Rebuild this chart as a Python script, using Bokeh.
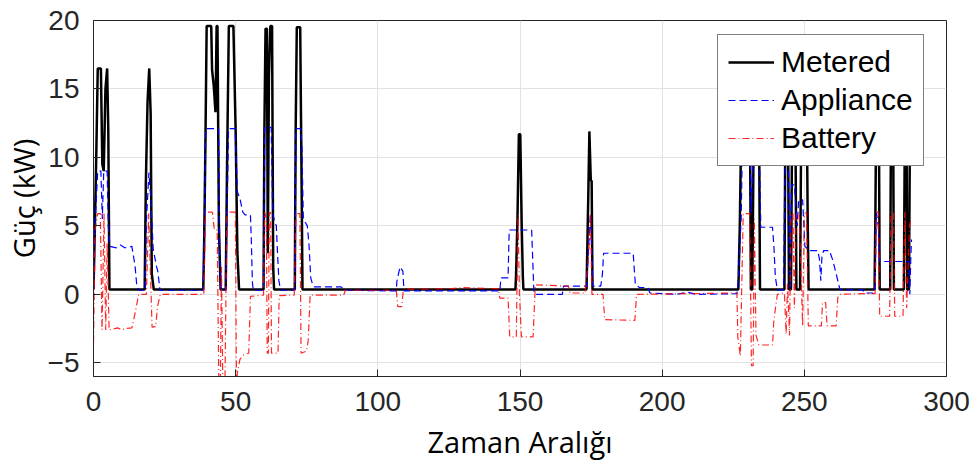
from bokeh.plotting import figure
from bokeh.models import Range1d, FixedTicker, Legend, LegendItem
from bokeh.embed import file_html
from bokeh.resources import INLINE

# ---- data (breakpoints) ----
metered_x = [0, 0.5, 1.0, 1.5, 2.6, 3.1, 3.6, 4.2, 4.8, 5.2, 5.6,
             18.0, 18.4, 19.0, 19.6, 20.1, 20.5, 21.2,
             38.6, 38.9, 39.3, 39.8, 41.4, 41.7, 42.3, 42.9, 43.3, 43.6, 44.1, 44.7,
             46.5, 47.0, 47.6, 49.2, 50.0, 50.6, 51.2,
             59.8, 60.1, 60.5, 61.0, 61.3, 61.7, 62.2, 62.8, 63.2, 63.5,
             70.8, 71.1, 71.5, 72.7, 73.0, 73.3, 73.5,
             148.4, 148.6, 149.1, 149.6, 150.1, 150.6, 151.0, 151.2,
             173.4, 173.6, 174.0, 174.4, 174.9, 175.2, 175.5,
             226.8, 227.3, 227.8, 228.3, 230.8, 231.2, 231.7, 232.2, 233.0, 233.5, 234.0, 234.4,
             243.0, 243.4, 244.2, 244.6, 245.3, 245.8, 246.8, 247.2, 248.5, 248.9, 249.3, 250.8, 251.2, 251.5,
             274.7, 275.0, 275.3, 276.2, 276.5,
             280.2, 280.5, 281.2, 281.5,
             285.0, 285.4, 285.9, 286.2, 286.8, 287.2, 287.7]
metered_y = [0.4, 5.0, 10.5, 16.5, 16.5, 9.5, 9.0, 15.0, 16.5, 12.0, 0.35,
             0.35, 8.0, 14.0, 16.5, 13.2, 1.5, 0.35,
             0.35, 3.6, 9.9, 19.6, 19.6, 16.4, 15.2, 13.3, 19.6, 19.6, 5.0, 0.35,
             0.35, 10.0, 19.6, 19.6, 11.9, 3.1, 0.35,
             0.35, 12.0, 19.4, 19.4, 3.0, 16.0, 19.6, 19.6, 2.0, 0.35,
             0.35, 12.0, 19.5, 19.5, 12.5, 5.5, 0.35,
             0.35, 1.3, 5.4, 11.7, 11.7, 5.0, 1.3, 0.35,
             0.35, 2.6, 7.0, 11.9, 8.3, 8.3, 0.35,
             0.35, 5.0, 12.0, 16.0, 16.0, 0.35, 0.35, 12.0, 16.0, 10.0, 16.0, 0.35,
             0.35, 15.0, 15.0, 0.35, 0.35, 15.0, 15.0, 0.35, 0.35, 12.0, 15.0, 15.0, 5.0, 0.35,
             0.35, 6.0, 14.0, 14.0, 0.35,
             0.35, 14.0, 14.0, 0.35,
             0.35, 14.0, 14.0, 0.35, 0.35, 14.0, 14.0]

appliance_x = [0, 0.5, 1.5, 2.6, 3.1, 3.6, 4.8, 5.2, 5.8, 8.0, 9.5, 11.0, 13.5, 14.6, 15.2, 16.0,
               18.2, 18.6, 19.5, 20.2, 21.0, 22.2, 22.6, 23.4,
               38.6, 39.0, 39.5, 44.0, 44.4, 44.7, 46.5, 47.0, 47.5, 49.8, 50.6, 51.5, 52.5, 53.3, 55.2, 55.5, 55.9, 56.2,
               59.8, 60.2, 62.5, 63.0, 63.6, 64.3, 64.7, 65.2, 65.8,
               70.8, 71.2, 72.9, 73.3, 73.8, 75.2, 75.8, 76.4, 77.1, 77.7, 87.1, 88.3,
               106.5, 106.7, 107.8, 108.8, 109.2,
               142.9, 143.3, 145.8, 146.2, 154.1, 154.9, 155.5, 164.9, 165.3,
               173.5, 174.0, 174.8, 175.4, 175.6, 178.4, 179.0, 179.4, 189.8, 190.3, 190.6, 192.0, 195.0, 195.7,
               205.0, 209.0, 212.0, 226.3, 226.8, 227.8, 228.3, 230.9, 231.3, 232.3, 234.0, 234.7, 238.8, 239.3, 239.8, 240.5,
               242.7, 243.1, 243.6, 244.4, 245.0, 245.5, 246.5, 247.5, 248.0, 249.4, 250.2, 251.6, 254.7, 255.3, 255.8, 256.2, 256.8,
               258.8, 260.0, 261.2, 262.4, 262.8, 270.6, 271.0, 274.7, 275.0, 275.3, 276.0, 276.5, 286.8, 287.1, 287.5, 287.7]
appliance_y = [0.3, 5.0, 9.0, 9.0, 5.5, 9.0, 9.0, 5.0, 3.5, 3.4, 3.6, 3.4, 3.5, 2.1, 0.7, 0.3,
               0.3, 5.3, 8.9, 6.8, 3.3, 2.0, 1.7, 0.3,
               0.3, 5.0, 12.1, 12.1, 3.0, 0.3, 0.3, 6.0, 12.1, 12.1, 7.5, 7.0, 6.0, 5.8, 5.8, 4.0, 0.8, 0.3,
               0.3, 12.2, 12.2, 6.0, 5.4, 5.0, 3.1, 1.0, 0.3,
               0.3, 12.1, 12.1, 10.9, 5.5, 5.0, 3.6, 1.2, 0.7, 0.55, 0.55, 0.3,
               0.25, 0.95, 2.0, 1.7, 0.25,
               0.25, 1.2, 1.2, 4.7, 4.7, 0.1, 0.0, 0.0, 0.6,
               0.6, 3.0, 5.9, 2.0, 0.6, 0.6, 1.5, 3.0, 3.0, 1.5, 0.7, 0.5, 0.5, 0.1,
               0.0, 0.15, 0.0, 0.05, 1.0, 5.7, 12.0, 12.0, 6.0, 12.0, 12.0, 4.9, 4.9, 3.5, 1.3, 0.33,
               0.33, 8.0, 10.0, 10.0, 0.33, 8.0, 8.0, 5.0, 6.9, 6.9, 3.5, 3.2, 3.2, 2.6, 1.0, 2.8, 3.2,
               3.2, 2.5, 1.5, 0.45, 0.33, 0.33, 0.1, 0.1, 2.0, 6.0, 5.0, 2.4, 2.4, 0.0, 3.0, 4.0]

battery_x = [0, 0.6, 1.5, 2.4, 3.0, 3.7, 4.3, 4.8, 5.5, 8.5, 10.0, 11.0, 13.5, 14.6, 15.9,
             18.6, 19.4, 20.6, 21.9, 22.5, 23.5,
             38.8, 39.4, 41.8, 42.5, 43.5, 44.1, 44.6, 45.0, 45.5, 46.2, 46.9, 49.9, 50.3, 50.6, 51.5, 52.9, 54.6, 55.2,
             59.8, 60.2, 60.8, 61.1, 61.5, 61.8, 62.3, 62.6, 64.9, 65.3,
             70.6, 71.2, 72.6, 73.0, 74.9, 75.5, 76.2, 88.0, 88.6,
             106.5, 107.0, 108.4, 109.0, 125.0, 130.0, 142.4, 142.9, 145.8, 146.4, 148.7, 149.3, 149.8, 150.5,
             154.6, 155.4, 167.0, 167.6, 172.9, 174.2, 174.8, 175.3, 176.2, 179.2, 179.8, 190.4, 191.0,
             226.3, 226.6, 227.5, 228.5, 230.8, 231.4, 232.0, 232.4, 233.0, 234.0, 238.8, 239.3, 240.5,
             243.0, 243.6, 244.1, 244.8, 245.3, 246.0, 246.5, 247.1, 248.2, 249.4, 250.0, 250.8, 251.4,
             256.0, 256.4, 257.5, 258.0, 261.2, 261.8, 262.4, 270.6, 274.9, 275.3, 276.0, 276.5,
             280.0, 280.5, 281.4, 281.8, 284.7, 285.3, 286.0, 287.0, 287.5]
battery_y = [-3.5, 4.8, 5.9, 5.9, -2.6, 5.9, -2.6, 3.7, -2.6, -2.45, -2.6, -2.5, -2.45, -1.4, 0.0,
             0.0, 5.9, -2.4, -2.35, -0.9, 0.0,
             0.0, 6.0, 6.0, 4.7, 4.7, -7.0, -7.0, 2.0, -7.0, -7.0, 6.0, 6.0, -7.0, -5.7, -4.75, -4.4, -4.3, -0.15,
             -0.05, 6.0, 5.5, -4.3, -4.3, 5.9, 6.0, -4.3, -4.3, -0.1,
             -0.05, 5.9, 5.9, -4.3, -4.15, -3.4, -0.05, -0.05, 0.3,
             0.3, -0.9, -0.9, 0.38, 0.4, 0.5, 0.4, -0.28, -0.28, -3.1, -3.1, 5.8, 0.0, -3.1,
             -3.1, 0.7, 0.6, 0.1, 0.1, 3.0, 5.9, 0.0, 0.0, 0.0, -1.85, -1.9, 0.0,
             0.1, -3.1, -4.5, 5.9, 5.9, -5.2, -5.2, 5.5, -3.0, -3.7, -3.7, -1.85, 0.0,
             0.1, -2.9, 0.8, -3.0, 5.9, 5.9, -1.0, 6.0, 6.0, -2.3, 5.8, 6.0, -2.3,
             -2.3, -0.6, -0.6, -2.3, -2.3, -0.15, 0.0, 0.05, 0.05, 6.0, 6.0, -1.6,
             -1.6, 6.0, 6.0, -1.6, -1.6, 6.0, -1.0, 5.0, 5.6]

x_ticks = [0, 50, 100, 150, 200, 250, 300]
y_ticks = [-5, 0, 5, 10, 15, 20]

TXT = "#262626"
p = figure(width=973, height=467, output_backend="svg", toolbar_location=None,
           x_range=Range1d(0, 300), y_range=Range1d(-6, 20),
           min_border_left=93, min_border_right=27, min_border_top=20, min_border_bottom=91)
p.background_fill_color = "white"
p.border_fill_color = "white"
p.outline_line_color = TXT
p.outline_line_width = 1

p.xaxis.ticker = FixedTicker(ticks=x_ticks)
p.yaxis.ticker = FixedTicker(ticks=y_ticks)
for ax in (p.xaxis[0], p.yaxis[0]):
    ax.major_tick_in = 7
    ax.major_tick_out = 0
    ax.minor_tick_line_color = None
    ax.axis_line_color = TXT
    ax.major_tick_line_color = TXT
    ax.major_label_text_color = TXT
    ax.major_label_text_font = "Liberation Sans"
    ax.major_label_text_font_size = "28px"
    ax.axis_label_text_font = "Open Sans"
    ax.axis_label_text_font_style = "normal"
    ax.axis_label_text_font_size = "29px"
    ax.axis_label_text_color = "black"
p.xaxis.major_label_standoff = 15
p.yaxis.major_label_standoff = 14
p.xaxis.axis_label = "Zaman Aralığı"
p.yaxis.axis_label = "Güç (kW)"
p.xaxis.axis_label_standoff = 8
p.yaxis.axis_label_standoff = 2

p.grid.grid_line_color = "#e2e2e2"
p.grid.grid_line_width = 1

r1 = p.line(metered_x, metered_y, line_color="black", line_width=2.5)
r2 = p.line(appliance_x, appliance_y, line_color="#0000ff", line_width=1.2, line_dash="7 4")
r3 = p.line(battery_x, battery_y, line_color="#ff0000", line_width=1.2, line_dash="7 3 1 3", line_alpha=0.85)

legend = Legend(items=[LegendItem(label="Metered", renderers=[r1]),
                       LegendItem(label="Appliance", renderers=[r2]),
                       LegendItem(label="Battery", renderers=[r3])],
                location=(624, 210))
legend.border_line_color = "black"
legend.border_line_width = 1
legend.background_fill_color = "white"
legend.background_fill_alpha = 1.0
legend.label_text_font = "Liberation Sans"
legend.label_text_font_size = "30px"
legend.label_text_color = "black"
legend.glyph_width = 46
legend.glyph_height = 30
legend.label_height = 30
legend.spacing = 4
legend.padding = 10
legend.margin = 0
legend.label_standoff = 7
p.add_layout(legend)

open("out.html", "w").write(file_html(p, INLINE))
